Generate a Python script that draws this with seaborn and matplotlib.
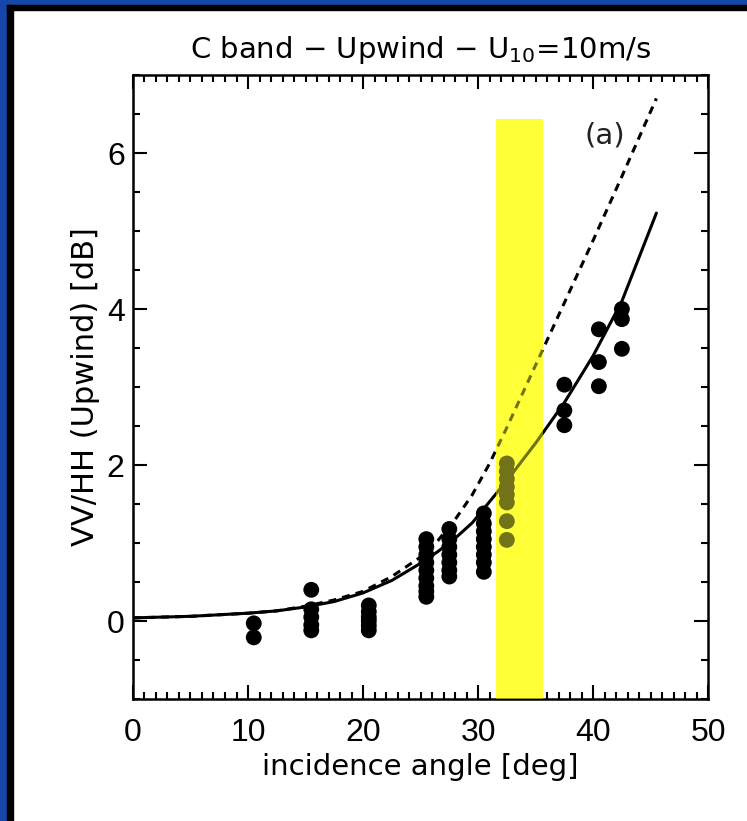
import numpy as np
import pandas as pd
import seaborn as sns
import matplotlib.pyplot as plt
from matplotlib.patches import Rectangle
from matplotlib.ticker import MultipleLocator

# measured points: incidence angle [deg] and VV/HH ratio [dB]
angle = [10.5, 10.5,
         15.5, 15.5, 15.5, 15.5, 15.5,
         20.5, 20.5, 20.5, 20.5, 20.5, 20.5,
         25.5, 25.5, 25.5, 25.5, 25.5, 25.5, 25.5, 25.5, 25.5,
         27.5, 27.5, 27.5, 27.5, 27.5, 27.5, 27.5,
         30.5, 30.5, 30.5, 30.5, 30.5, 30.5, 30.5, 30.5,
         32.5, 32.5, 32.5, 32.5, 32.5, 32.5, 32.5, 32.5,
         37.5, 37.5, 37.5,
         40.5, 40.5, 40.5,
         42.5, 42.5, 42.5]
ratio = [-0.03, -0.21,
         0.40, 0.15, 0.05, -0.05, -0.12,
         0.20, 0.12, 0.05, 0.0, -0.06, -0.12,
         1.05, 0.95, 0.85, 0.75, 0.65, 0.55, 0.45, 0.38, 0.31,
         1.18, 1.05, 0.95, 0.85, 0.75, 0.65, 0.57,
         1.38, 1.25, 1.15, 1.05, 0.95, 0.85, 0.75, 0.63,
         2.02, 1.92, 1.82, 1.72, 1.62, 1.52, 1.28, 1.04,
         3.03, 2.70, 2.51,
         3.74, 3.32, 3.01,
         4.00, 3.87, 3.49]

# model curves
curve_angle = [0, 2.5, 5, 7.5, 10, 12.5, 15, 17.5, 20, 22.5, 25, 26.5, 28,
               29.5, 31, 32.5, 35, 37.5, 40, 42.5, 45.5]
solid_model = [0.04, 0.05, 0.06, 0.08, 0.10, 0.13, 0.18, 0.25, 0.36, 0.52,
               0.74, 0.89, 1.06, 1.26, 1.53, 1.80, 2.28, 2.80, 3.40, 4.10, 5.23]
dashed_model = [0.04, 0.05, 0.06, 0.08, 0.10, 0.13, 0.19, 0.27, 0.38, 0.57,
                0.82, 1.03, 1.30, 1.62, 2.02, 2.48, 3.28, 4.08, 4.88, 5.70, 6.70]

# highlighted angle range
band_lo, band_hi, band_top = 31.6, 35.6, 6.44

sns.set_style("ticks")
plt.rcParams['font.family'] = ['DejaVu Sans']
plt.rcParams['text.color'] = 'black'
plt.rcParams['axes.labelcolor'] = 'black'
plt.rcParams['xtick.color'] = 'black'
plt.rcParams['ytick.color'] = 'black'
plt.rcParams['axes.edgecolor'] = 'black'

fig = plt.figure(figsize=(7.47, 8.21), dpi=100)
ax = fig.add_axes([0.178, 0.1486, 0.770, 0.760])

# blue frame around the slide
fig.patches.append(Rectangle((0, 0), 7 / 747, 1, transform=fig.transFigure,
                             color='#1746aa', zorder=0))
fig.patches.append(Rectangle((0, 1 - 5 / 821), 1, 5 / 821, transform=fig.transFigure,
                             color='#1746aa', zorder=0))
fig.patches.append(Rectangle((7 / 747, 0), 6 / 747, 1 - 5 / 821, transform=fig.transFigure,
                             color='black', zorder=0))
fig.patches.append(Rectangle((7 / 747, 1 - 10 / 821), 1, 5 / 821, transform=fig.transFigure,
                             color='black', zorder=0))

# yellow band: opaque under the data, translucent over it
ax.fill_between([band_lo, band_hi], -1, band_top, color='#ffff38', lw=0, zorder=1)

curves = pd.DataFrame({'angle': curve_angle, 'solid': solid_model, 'dashed': dashed_model})
sns.lineplot(data=curves, x='angle', y='solid', color='black', lw=2.2,
             estimator=None, sort=False, ax=ax, zorder=2)
sns.lineplot(data=curves, x='angle', y='dashed', color='black', lw=2.2,
             estimator=None, sort=False, ax=ax, linestyle=(0, (2.6, 2.0)), zorder=2)

pts = pd.DataFrame({'angle': angle, 'ratio': ratio})
sns.scatterplot(data=pts, x='angle', y='ratio', color='black', s=130,
                edgecolor='none', ax=ax, zorder=3)

ax.fill_between([band_lo, band_hi], -1, band_top, color='#ffff38', alpha=0.45,
                lw=0, zorder=4)

ax.set_xlim(0, 50)
ax.set_ylim(-1, 7)
ax.xaxis.set_major_locator(MultipleLocator(10))
ax.xaxis.set_minor_locator(MultipleLocator(1))
ax.yaxis.set_major_locator(MultipleLocator(2))
ax.yaxis.set_minor_locator(MultipleLocator(0.5))
ax.tick_params(which='both', direction='in', top=True, right=True, width=1.5,
               labelsize=23)
ax.tick_params(axis='x', pad=14)
ax.tick_params(axis='y', pad=6)
ax.tick_params(which='major', length=10)
ax.tick_params(which='minor', length=5)
for lab in ax.get_xticklabels() + ax.get_yticklabels():
    lab.set_family('Liberation Sans')
for sp in ax.spines.values():
    sp.set_linewidth(1.8)

ax.set_title(r"C band $-$ Upwind $-$ U$_{\mathregular{10}}$=10m/s", fontsize=21, pad=12)
ax.set_xlabel("incidence angle [deg]", fontsize=21, labelpad=3)
ax.set_ylabel("VV/HH (Upwind) [dB]", fontsize=22, labelpad=5)
ax.text(41.0, 6.22, "(a)", fontsize=21, family='DejaVu Sans',
        ha='center', va='center', color='#222222')

fig.savefig('out.png', dpi=100)
